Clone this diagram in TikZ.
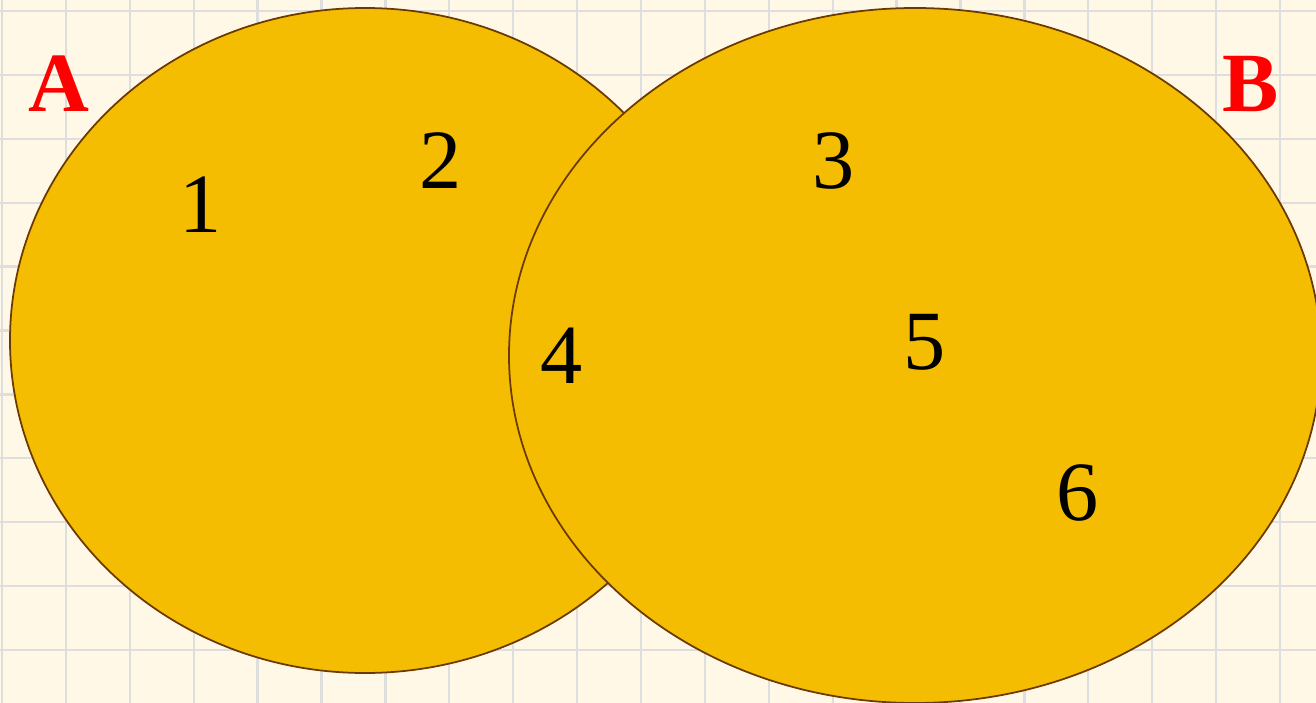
\documentclass[tikz,border=0pt]{standalone}
\usepackage{fontspec}
\setmainfont{Liberation Serif}

\definecolor{paper}{HTML}{FFF8E6}
\definecolor{gridgray}{HTML}{DEDEDE}
\definecolor{setgold}{HTML}{F5BD02}
\definecolor{setbrown}{HTML}{6B3A00}

\tikzset{
  setshape/.style={fill=setgold, draw=setbrown, line width=1pt},
  setname/.style={text=red, inner sep=0pt, font=\fontsize{48}{48}\selectfont\bfseries},
  elem/.style={inner sep=0pt, font=\fontsize{48}{48}\selectfont}
}

\begin{document}
\begin{tikzpicture}[x=0.02cm, y=-0.02cm, line join=round]
  \useasboundingbox (0,0) rectangle (1316,703); % pixel box

  % --- squared paper ---
  \fill[paper] (0,0) rectangle (1316,703);
  \foreach \i in {0,...,20}{\draw[gridgray, line width=1.3pt] (2+63.9*\i,0) -- ++(0,703);}
  \foreach \j in {0,...,10}{\draw[gridgray, line width=1.3pt] (0,11+63.9*\j) -- ++(1316,0);}

  % --- the two sets, B over A ---
  \draw[setshape] (365,340.5) ellipse [x radius=355, y radius=332.5];
  \draw[setshape] (915,355.5) ellipse [x radius=406, y radius=347.5];

  \node[setname] (nameA) at (59,84)   {A};
  \node[setname] (nameB) at (1251,84) {B};

  % --- elements ---
  \node[elem] (e1) at (201,205) {1};
  \node[elem] (e2) at (441,161) {2};
  \node[elem] (e3) at (834,161) {3};
  \node[elem] (e4) at (562,356) {4};
  \node[elem] (e5) at (925,342) {5};
  \node[elem] (e6) at (1078,493) {6};
\end{tikzpicture}
\end{document}
